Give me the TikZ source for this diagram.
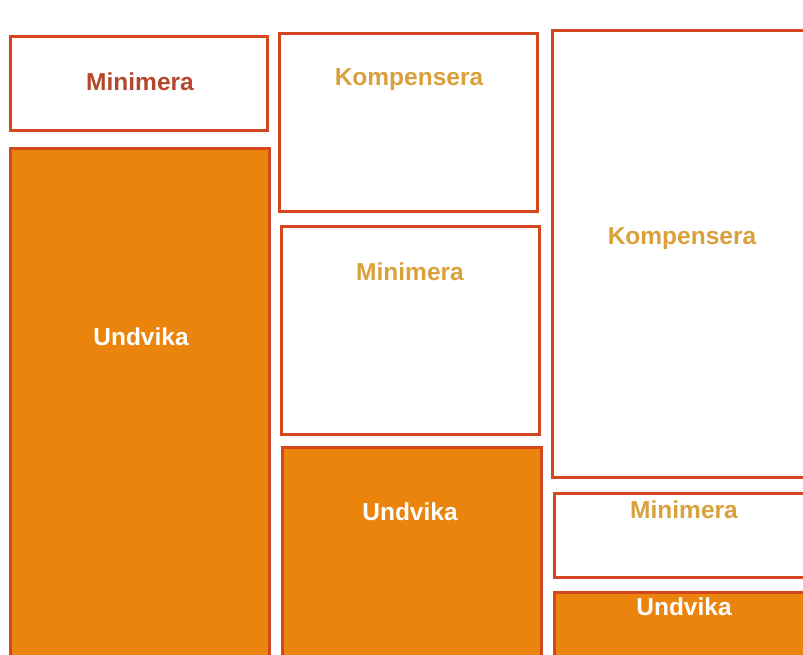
\documentclass[tikz,border=0pt]{standalone}
\usepackage{fontspec}
\setmainfont{Liberation Sans}
\definecolor{bord}{HTML}{D4461E}
\definecolor{orfill}{HTML}{EA840C}
\definecolor{gold}{HTML}{D9A03C}
\definecolor{darkred}{HTML}{B5482C}
\begin{document}
\begin{tikzpicture}[x=1pt,y=-1pt,
  box/.style={draw=bord,line width=3pt,fill=white,anchor=north west,inner sep=0pt,outer sep=0pt},
  obox/.style={box,fill=orfill},
  lbl/.style={font=\bfseries\fontsize{24.5}{26}\selectfont,inner sep=0pt},
  ]
\useasboundingbox (0,0) rectangle (803,655);
\clip (0,0) rectangle (803,655);
\fill[white] (0,0) rectangle (803,655);
% left column
\node[box,minimum width=257pt,minimum height=94pt] (bA) at (10.5,36.5) {};
\node[obox,minimum width=259pt,minimum height=520pt] (bB) at (10.5,148.5) {};
% middle column
\node[box,minimum width=258pt,minimum height=178pt] (bC) at (279.5,33.5) {};
\node[box,minimum width=258pt,minimum height=208pt] (bD) at (281.5,226.5) {};
\node[obox,minimum width=259pt,minimum height=220pt] (bE) at (282.5,447.5) {};
% right column
\node[box,minimum width=270pt,minimum height=447pt] (bF) at (552.5,30.5) {};
\node[box,minimum width=270pt,minimum height=84pt] (bG) at (554.5,493.5) {};
\node[obox,minimum width=270pt,minimum height=80pt] (bH) at (554.5,592.5) {};
% labels
\node[lbl,text=darkred] (tA) at (140,82) {Minimera};
\node[lbl,text=white] (tB) at (141,337) {Undvika};
\node[lbl,text=gold] (tC) at (409,80) {Kompensera};
\node[lbl,text=gold] (tD) at (410,272) {Minimera};
\node[lbl,text=white] (tE) at (410,512) {Undvika};
\node[lbl,text=gold] (tF) at (682,239) {Kompensera};
\node[lbl,text=gold] (tG) at (684,510) {Minimera};
\node[lbl,text=white] (tH) at (684,607) {Undvika};
\end{tikzpicture}
\end{document}
